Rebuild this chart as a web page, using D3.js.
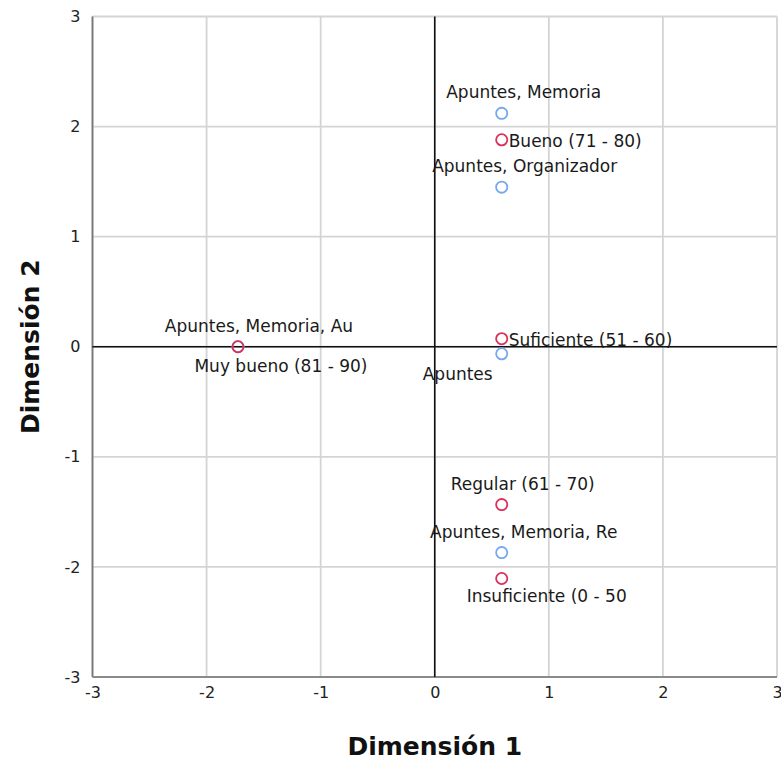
<!DOCTYPE html>
<html><head><meta charset="utf-8">
<script src="https://cdn.jsdelivr.net/npm/d3@7/dist/d3.min.js"></script>
<style>body{margin:0;background:#fff}</style>
</head><body>
<svg id="c" width="781" height="760"></svg>
<script>
// Data
const rowLabels = ["Apuntes, Memoria", "Apuntes, Organizador", "Apuntes", "Apuntes, Memoria, Au", "Apuntes, Memoria, Re"];
const rowDim1 = [0.587, 0.587, 0.587, -1.725, 0.587];
const rowDim2 = [2.12, 1.45, -0.064, 0.0, -1.87];
const colLabels = ["Bueno (71 - 80)", "Suficiente (51 - 60)", "Muy bueno (81 - 90)", "Regular (61 - 70)", "Insuficiente (0 - 50"];
const colDim1 = [0.587, 0.587, -1.725, 0.587, 0.587];
const colDim2 = [1.88, 0.073, 0.0, -1.434, -2.105];
const ticks = [-3, -2, -1, 0, 1, 2, 3];
const tickLabels = ["-3", "-2", "-1", "0", "1", "2", "3"];

// label layout (anchor, dx, dy in px)
const rowLabelLayout = [["middle", 22, -15], ["middle", 23, -15], ["middle", -44, 26], ["middle", 21, -15], ["middle", 22, -15]];
const colLabelLayout = [["start", 7, 7], ["start", 7, 7], ["middle", 43, 25], ["middle", 21, -15], ["middle", 45, 24]];

const svg = d3.select("#c");
const x = d3.scaleLinear().domain([-3, 3]).range([92.5, 777]);
const y = d3.scaleLinear().domain([-3, 3]).range([677, 16.5]);
const font = "DejaVu Sans, sans-serif";

// gridlines
const g = svg.append("g");
g.selectAll(".vg").data(ticks).join("line")
  .attr("x1", d => x(d)).attr("x2", d => x(d)).attr("y1", y(3)).attr("y2", y(-3))
  .attr("stroke", "#d4d4d4").attr("stroke-width", 1.8);
g.selectAll(".hg").data(ticks).join("line")
  .attr("y1", d => y(d)).attr("y2", d => y(d)).attr("x1", x(-3)).attr("x2", x(3))
  .attr("stroke", "#d4d4d4").attr("stroke-width", 1.8);
// frame left & bottom
svg.append("line").attr("x1", x(-3)).attr("x2", x(-3)).attr("y1", y(3)).attr("y2", y(-3)).attr("stroke", "#777").attr("stroke-width", 1.8);
svg.append("line").attr("x1", x(-3)).attr("x2", x(3)).attr("y1", y(-3)).attr("y2", y(-3)).attr("stroke", "#8a8a8a").attr("stroke-width", 1.8);
// zero lines
svg.append("line").attr("x1", x(0)).attr("x2", x(0)).attr("y1", y(3)).attr("y2", y(-3)).attr("stroke", "#111").attr("stroke-width", 1.6);
svg.append("line").attr("x1", x(-3)).attr("x2", x(3)).attr("y1", y(0)).attr("y2", y(0)).attr("stroke", "#111").attr("stroke-width", 1.6);

// axes
const fmt = d => tickLabels[ticks.indexOf(d)];
const xAxis = d3.axisBottom(x).tickValues(ticks).tickSize(0).tickPadding(10).tickFormat(fmt);
const yAxis = d3.axisLeft(y).tickValues(ticks).tickSize(0).tickPadding(12).tickFormat(fmt);
const xa = svg.append("g").attr("transform", `translate(0,${y(-3)})`).call(xAxis);
const ya = svg.append("g").attr("transform", `translate(${x(-3)},0)`).call(yAxis);
[xa, ya].forEach(a => {
  a.select(".domain").remove();
  a.selectAll("text").attr("font-family", font).attr("font-size", 16).attr("fill", "#222");
});

// titles
svg.append("text").attr("x", x(0)).attr("y", 755).attr("text-anchor", "middle")
  .attr("font-family", font).attr("font-weight", "bold").attr("font-size", 25).attr("fill", "#111").text("Dimensión 1");
svg.append("text").attr("transform", `translate(39,${y(0)}) rotate(-90)`).attr("text-anchor", "middle")
  .attr("font-family", font).attr("font-weight", "bold").attr("font-size", 25).attr("fill", "#111").text("Dimensión 2");

// points
const rows = rowLabels.map((l, i) => ({l, x: rowDim1[i], y: rowDim2[i], lay: rowLabelLayout[i]}));
const cols = colLabels.map((l, i) => ({l, x: colDim1[i], y: colDim2[i], lay: colLabelLayout[i]}));

function drawSet(data, color) {
  svg.append("g").selectAll("circle").data(data).join("circle")
    .attr("cx", d => x(d.x)).attr("cy", d => y(d.y)).attr("r", 5.6)
    .attr("fill", "none").attr("stroke", color).attr("stroke-width", 1.8);
}
function drawLabels(data) {
  svg.append("g").selectAll("text").data(data).join("text")
    .attr("x", d => x(d.x) + d.lay[1]).attr("y", d => y(d.y) + d.lay[2])
    .attr("text-anchor", d => d.lay[0])
    .attr("font-family", font).attr("font-size", 17).attr("fill", "#1a1a1a").text(d => d.l);
}
drawSet(rows, "#74a8f0");
drawSet(cols, "#dc2f5c");
drawLabels(rows);
drawLabels(cols);
</script>
</body></html>
